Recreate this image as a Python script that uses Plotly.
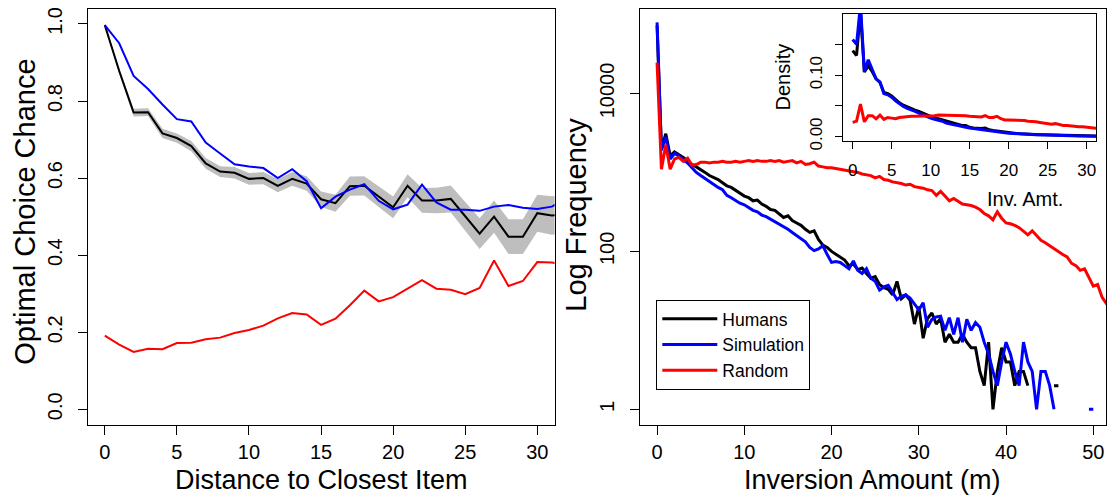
import plotly.graph_objects as go

# ---------------- data: left panel ----------------
distance = list(range(0, 33))
humans_opt = [0.997, 0.878, 0.770, 0.771, 0.716, 0.704, 0.683, 0.638, 0.617, 0.614,
              0.598, 0.600, 0.580, 0.598, 0.586, 0.545, 0.535, 0.579, 0.580, 0.552,
              0.524, 0.580, 0.542, 0.542, 0.546, 0.501, 0.456, 0.500, 0.448, 0.448,
              0.509, 0.503, 0.505]
humans_se = [0.004, 0.008, 0.010, 0.010, 0.012, 0.012, 0.013, 0.014, 0.014, 0.015,
             0.015, 0.016, 0.017, 0.018, 0.019, 0.020, 0.022, 0.025, 0.025, 0.027,
             0.028, 0.030, 0.032, 0.033, 0.035, 0.037, 0.040, 0.042, 0.045, 0.045,
             0.048, 0.050, 0.050]
sim_opt = [0.997, 0.950, 0.865, 0.831, 0.791, 0.753, 0.747, 0.692, 0.664, 0.636,
           0.630, 0.626, 0.600, 0.623, 0.592, 0.522, 0.552, 0.570, 0.584, 0.541,
           0.519, 0.531, 0.583, 0.537, 0.518, 0.518, 0.515, 0.526, 0.530, 0.523,
           0.520, 0.526, 0.545]
rand_opt = [0.191, 0.168, 0.149, 0.157, 0.156, 0.172, 0.173, 0.182, 0.186, 0.198,
            0.206, 0.217, 0.236, 0.250, 0.246, 0.219, 0.235, 0.270, 0.308, 0.280,
            0.291, 0.312, 0.335, 0.313, 0.310, 0.299, 0.315, 0.386, 0.320, 0.333,
            0.382, 0.381, 0.375]

# ---------------- data: right panel (log10 of frequency), bins of 0.5 m ----------------
humans_log10 = [4.86, 3.30, 3.49, 3.21, 3.26, 3.23, 3.19, 3.15, 3.10, 3.07,
                3.04, 3.00, 2.96, 2.94, 2.91, 2.87, 2.83, 2.81, 2.77, 2.74,
                2.70, 2.68, 2.64, 2.65, 2.60, 2.57, 2.53, 2.52, 2.48, 2.43,
                2.45, 2.39, 2.36, 2.33, 2.28, 2.24, 2.26, 2.15, 2.08, 2.05,
                2.00, 1.96, 1.92, 1.89, 1.82, 1.84, 1.77, 1.79, 1.72, 1.66,
                1.68, 1.58, 1.54, 1.52, 1.45, 1.62, 1.40, 1.45, 1.38, 1.08,
                1.30, 0.90, 1.15, 1.22, 1.08, 1.15, 0.85, 0.95, 0.85, 0.85,
                0.95, 0.85, 0.78, 0.78, 0.48, 0.30, 0.85, 0.00, 0.48, 0.78,
                0.60, 0.60, 0.30, 0.48, 0.48, 0.30, None, None, None, None,
                None, 0.30, 0.30, None, None, None, None, None, None, None,
                None, None, None, None, None]
sim_log10 = [4.90, 3.28, 3.45, 3.17, 3.24, 3.21, 3.16, 3.12, 3.06, 3.00,
             2.96, 2.92, 2.88, 2.84, 2.81, 2.78, 2.71, 2.68, 2.64, 2.61,
             2.59, 2.55, 2.52, 2.50, 2.46, 2.44, 2.41, 2.38, 2.34, 2.31,
             2.28, 2.24, 2.20, 2.16, 2.12, 2.05, 2.01, 2.03, 2.07, 1.96,
             1.86, 1.87, 1.86, 1.82, 1.78, 1.88, 1.76, 1.72, 1.78, 1.66,
             1.62, 1.51, 1.55, 1.57, 1.48, 1.39, 1.43, 1.45, 1.41, 1.33,
             1.26, 1.35, 1.04, 1.14, 1.17, 1.18, 1.00, 1.16, 0.95, 1.16,
             0.85, 1.14, 1.00, 1.10, 1.04, 0.85, 0.70, 0.48, 0.30, 0.60,
             0.85, 0.70, 0.48, 0.30, 0.85, 0.60, 0.48, 0.00, 0.48, 0.48,
             0.30, 0.00, None, None, None, None, None, None, None, 0.00,
             0.00, None, None, None, None]
rand_log10 = [4.39, 3.04, 3.35, 3.04, 3.17, 3.19, 3.14, 3.18, 3.09, 3.10,
              3.13, 3.13, 3.12, 3.13, 3.13, 3.14, 3.13, 3.13, 3.14, 3.13,
              3.14, 3.15, 3.14, 3.15, 3.14, 3.14, 3.15, 3.14, 3.15, 3.13,
              3.14, 3.15, 3.12, 3.14, 3.10, 3.11, 3.13, 3.08, 3.07, 3.06,
              3.06, 3.05, 3.04, 3.03, 3.02, 3.01, 3.00, 2.98, 2.97, 2.96,
              2.93, 2.95, 2.91, 2.90, 2.88, 2.87, 2.86, 2.84, 2.85, 2.82,
              2.81, 2.80, 2.78, 2.77, 2.71, 2.76, 2.70, 2.64, 2.67, 2.63,
              2.60, 2.59, 2.58, 2.56, 2.53, 2.48, 2.45, 2.40, 2.50, 2.42,
              2.36, 2.35, 2.33, 2.30, 2.26, 2.21, 2.26, 2.20, 2.14, 2.11,
              2.07, 2.04, 2.00, 1.96, 1.93, 1.85, 1.82, 1.76, 1.78, 1.66,
              1.56, 1.58, 1.42, 1.34, 1.28]
inversion = [i * 0.5 for i in range(len(rand_log10))]

# ---------------- data: inset (density) ----------------
humans_dens = [0.140, 0.132, 0.205, 0.105, 0.115, 0.106, 0.094, 0.088, 0.072, 0.070,
               0.066, 0.060, 0.055, 0.051, 0.048, 0.046, 0.043, 0.041, 0.038, 0.035,
               0.032, 0.030, 0.029, 0.027, 0.025, 0.023, 0.022, 0.020, 0.018, 0.018,
               0.015, 0.014, 0.013, 0.013, 0.014, 0.011, 0.010, 0.009, 0.008, 0.007,
               0.0060, 0.0055, 0.0050, 0.0045, 0.0040, 0.0038, 0.0035, 0.0032, 0.0030, 0.0028,
               0.0026, 0.0023, 0.0021, 0.0019, 0.0017, 0.0015, 0.0014, 0.0012, 0.0011, 0.0010,
               0.0009, 0.0008, 0.0007, 0.0006, 0.0005]
sim_dens = [0.158, 0.150, 0.215, 0.106, 0.125, 0.108, 0.094, 0.089, 0.070, 0.068,
            0.064, 0.058, 0.053, 0.049, 0.046, 0.044, 0.041, 0.038, 0.035, 0.032,
            0.030, 0.028, 0.027, 0.025, 0.022, 0.020, 0.019, 0.018, 0.016, 0.015,
            0.014, 0.013, 0.012, 0.011, 0.011, 0.010, 0.009, 0.008, 0.007, 0.006,
            0.0055, 0.0050, 0.0045, 0.0040, 0.0040, 0.0035, 0.0030, 0.0030, 0.0028, 0.0025,
            0.0024, 0.0020, 0.0020, 0.0018, 0.0016, 0.0015, 0.0013, 0.0012, 0.0010, 0.0010,
            0.0009, 0.0008, 0.0007, 0.0006, 0.0005]
rand_dens = [0.023, 0.025, 0.053, 0.024, 0.034, 0.034, 0.029, 0.035, 0.028, 0.031,
             0.030, 0.029, 0.031, 0.032, 0.032, 0.033, 0.033, 0.033, 0.033, 0.034,
             0.034, 0.034, 0.035, 0.035, 0.035, 0.035, 0.035, 0.034, 0.034, 0.034,
             0.033, 0.033, 0.032, 0.032, 0.034, 0.031, 0.031, 0.033, 0.029, 0.027,
             0.027, 0.027, 0.027, 0.026, 0.026, 0.025, 0.025, 0.024, 0.023, 0.022,
             0.021, 0.020, 0.021, 0.019, 0.018, 0.018, 0.017, 0.017, 0.016, 0.016,
             0.015, 0.015, 0.014, 0.013, 0.013]
inv_amt = [i * 0.5 for i in range(len(rand_dens))]

series_names = ["Humans", "Simulation", "Random"]
series_colors = ["black", "blue", "red"]

# ---------------- figure ----------------
W, H = 1109, 504
FONT = "Liberation Sans, Arial, sans-serif"


def fx(p):
    return p / W


def fy(p):
    return 1 - p / H


fig = go.Figure()

# left panel: SE band + lines
upper = [m + s for m, s in zip(humans_opt, humans_se)]
lower = [m - s for m, s in zip(humans_opt, humans_se)]
fig.add_trace(go.Scatter(x=distance + distance[::-1], y=upper + lower[::-1],
                         fill="toself", fillcolor="rgb(190,190,190)",
                         line=dict(width=0), mode="lines", showlegend=False,
                         hoverinfo="skip", xaxis="x", yaxis="y"))
for vals, c in zip([humans_opt, sim_opt, rand_opt], series_colors):
    fig.add_trace(go.Scatter(x=distance, y=vals, mode="lines",
                             line=dict(color=c, width=2), showlegend=False,
                             xaxis="x", yaxis="y"))

# right panel main
for vals, name, c in zip([humans_log10, sim_log10, rand_log10], series_names, series_colors):
    fig.add_trace(go.Scatter(x=inversion, y=vals, mode="lines", name=name,
                             line=dict(color=c, width=3), connectgaps=False,
                             showlegend=True, xaxis="x2", yaxis="y2"))

# inset
for vals, c in zip([humans_dens, sim_dens, rand_dens], series_colors):
    fig.add_trace(go.Scatter(x=inv_amt, y=vals, mode="lines",
                             line=dict(color=c, width=3), showlegend=False,
                             xaxis="x3", yaxis="y3"))

axis_common = dict(showline=True, mirror=True, linecolor="black", linewidth=1,
                   ticks="outside", ticklen=9, tickcolor="black", tickwidth=1,
                   showgrid=False, zeroline=False,
                   tickfont=dict(family=FONT, size=20, color="black"))

main_top, main_bot = 7.7, 432.3
fig.update_layout(
    width=W, height=H,
    margin=dict(l=0, r=0, t=0, b=0),
    paper_bgcolor="white", plot_bgcolor="white",
    font=dict(family=FONT, color="black"),
    xaxis=dict(domain=[fx(87.5), fx(554.6)], range=[-1.2, 31.2],
               tickvals=[0, 5, 10, 15, 20, 25, 30], anchor="y",
               ticklabelstandoff=0, **axis_common),
    yaxis=dict(domain=[fy(main_bot), fy(main_top)], range=[-0.04, 1.04],
               tickvals=[0, 0.2, 0.4, 0.6, 0.8, 1.0],
               ticktext=["0.0", "0.2", "0.4", "0.6", "0.8", "1.0"],
               tickangle=-90, anchor="x", ticklabelstandoff=8, **axis_common),
    xaxis2=dict(domain=[fx(639.8), fx(1106.2)], range=[-1.98, 51.48],
                tickvals=[0, 10, 20, 30, 40, 50], anchor="y2",
                ticklabelstandoff=0, **axis_common),
    yaxis2=dict(domain=[fy(main_bot), fy(main_top)], range=[-0.195, 5.075],
                tickvals=[0, 2, 4], ticktext=["1", "100", "10000"],
                tickangle=-90, anchor="x2", ticklabelstandoff=8, **axis_common),
    legend=dict(x=fx(656.3), y=fy(305), xanchor="left", yanchor="top",
                bordercolor="black", borderwidth=1, bgcolor="white",
                itemwidth=55,
                font=dict(family=FONT, size=17.5, color="black")),
)

inset_common = dict(axis_common)
inset_common["tickfont"] = dict(family=FONT, size=17, color="black")
inset_common["ticklen"] = 7
fig.update_layout(
    xaxis3=dict(domain=[fx(843.3), fx(1096)], range=[-1.2, 31.2],
                tickvals=[0, 5, 10, 15, 20, 25, 30], anchor="y3",
                ticklabelstandoff=6, **inset_common),
    yaxis3=dict(domain=[fy(143.3), fy(13.3)], range=[-0.008, 0.1995],
                tickvals=[0, 0.05, 0.10, 0.15], ticktext=["0.00", "", "0.10", ""],
                tickangle=-90, anchor="x3", ticklabelstandoff=7, **inset_common),
)

titles = [
    ("Optimal Choice Chance", 25, 215, -90, 29),
    ("Distance to Closest Item", 321, 489, 0, 27),
    ("Log Frequency", 576, 218, -90, 29),
    ("Inversion Amount (m)", 873, 489, 0, 27),
    ("Density", 783, 78, -90, 20),
    ("Inv. Amt.", 1025, 202, 0, 20),
]
for text, x, y, ang, size in titles:
    fig.add_annotation(text=text, x=fx(x), y=fy(y), xref="paper", yref="paper",
                       showarrow=False, textangle=ang, xanchor="center", yanchor="middle",
                       borderpad=0,
                       font=dict(family=FONT, size=size, color="black"))

fig.write_html("out.html")
